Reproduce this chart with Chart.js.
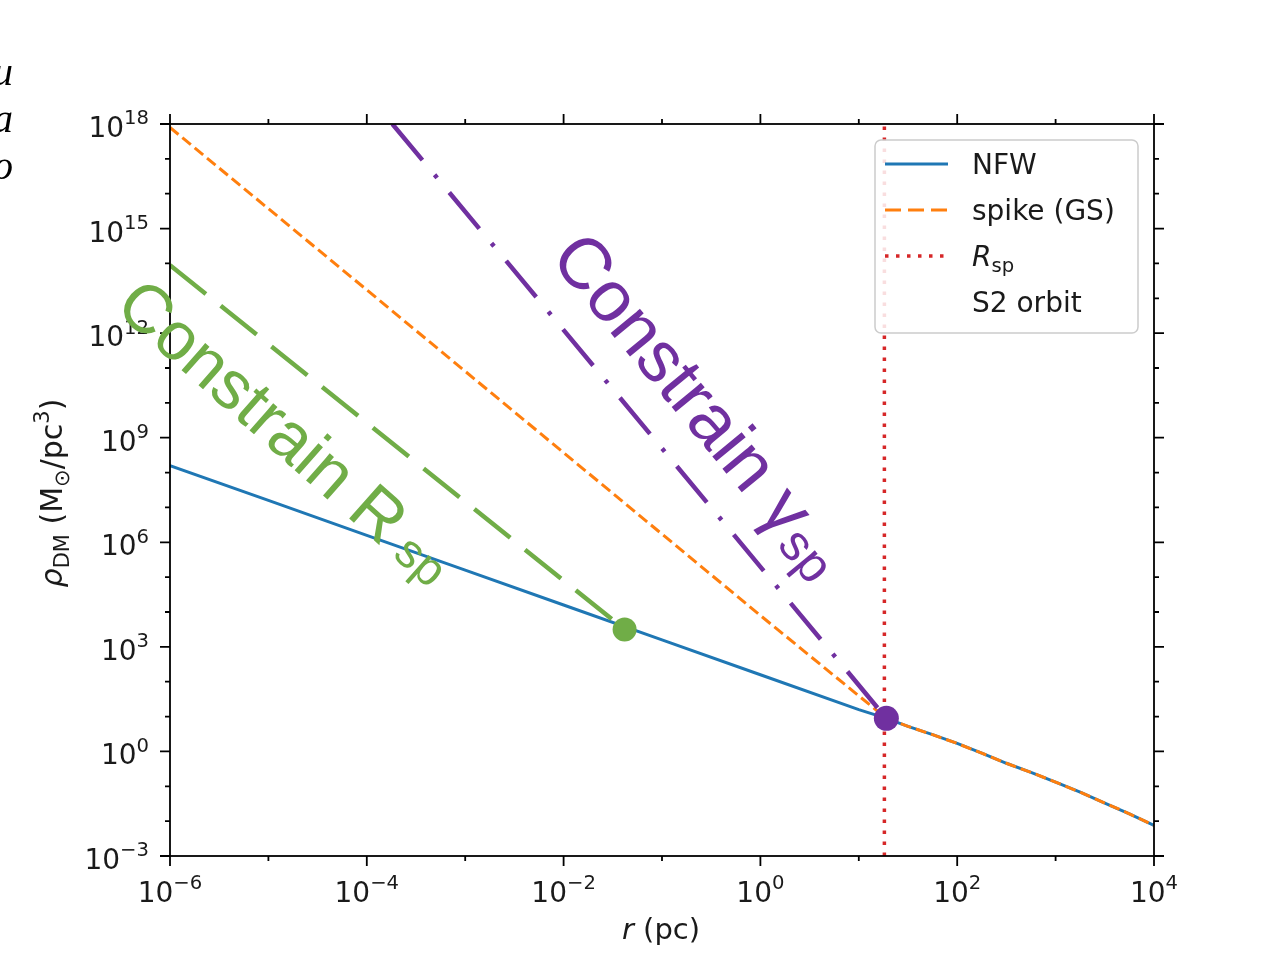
<!DOCTYPE html>
<html><head><meta charset="utf-8">
<script src="https://cdn.jsdelivr.net/npm/chart.js@4.4.1/dist/chart.umd.min.js"></script>
<style>
html,body{margin:0;padding:0;background:#fff;}
#wrap{position:relative;width:1277px;height:953px;overflow:hidden;background:#fff;}
#frag{position:absolute;left:0;top:0;width:13px;height:953px;overflow:hidden;}
#frag span{position:absolute;right:0;font:italic 40px "Liberation Serif",serif;color:#000;line-height:1;}
canvas{position:absolute;left:0;top:0;}
</style></head><body>
<div id="wrap">
<canvas id="c" width="1277" height="953"></canvas>
<div id="frag"><span style="top:52px">u</span><span style="top:99px">a</span><span style="top:146px">o</span></div>
</div>
<script>
// ---- data (log10 values) ----
const nfwLogR   = [-6, -5, -4, -3, -2, -1, 0, 1, 1.28, 1.5, 1.75, 2, 2.25, 2.5, 2.75, 3, 3.25, 3.5, 3.75, 4];
const nfwLogRho = [8.2, 7.2, 6.2, 5.2, 4.2, 3.2, 2.2, 1.2, 0.95, 0.72, 0.48, 0.23, -0.05, -0.34, -0.6, -0.88, -1.17, -1.48, -1.79, -2.12];
const spikeLogR   = [-6, -4, -2, 0, 1.28, 1.5, 1.75, 2, 2.25, 2.5, 2.75, 3, 3.25, 3.5, 3.75, 4];
const spikeLogRho = [17.9, 13.24, 8.57, 3.9, 0.95, 0.72, 0.48, 0.23, -0.05, -0.34, -0.6, -0.88, -1.17, -1.48, -1.79, -2.12];
const rspLogR = 1.26;
const rspLogRho = [-3, 18];
const constrainRspLogR   = [-6, -1.38];
const constrainRspLogRho = [13.95, 3.5];
const constrainGspLogR   = [-3.74, 1.28];
const constrainGspLogRho = [18.0, 0.95];
const greenDot = {logR: -1.38, logRho: 3.5};
const purpleDot = {logR: 1.28, logRho: 0.95};
const xTickLogs = [-6, -4, -2, 0, 2, 4];
const xTickExps = ['\u22126', '\u22124', '\u22122', '0', '2', '4'];
const yTickLogs = [-3, 0, 3, 6, 9, 12, 15, 18];
const yTickExps = ['\u22123', '0', '3', '6', '9', '12', '15', '18'];
const legendLabels = ['NFW', 'spike (GS)', 'R', 'S2 orbit'];

const C_BLUE = '#1f77b4', C_ORANGE = '#ff7f0e', C_RED = '#d62728', C_GREEN = '#70AD47', C_PURPLE = '#7030A0';
const TXT = '#1a1a1a';

const pts = (lr, lrho) => lr.map((v, i) => ({x: Math.pow(10, v), y: Math.pow(10, lrho[i])}));

const datasets = [
  {label: 'dotG', data: [{x: 10 ** greenDot.logR, y: 10 ** greenDot.logRho}], showLine: false, pointRadius: 12, pointBackgroundColor: C_GREEN, pointBorderWidth: 0, order: 0},
  {label: 'dotP', data: [{x: 10 ** purpleDot.logR, y: 10 ** purpleDot.logRho}], showLine: false, pointRadius: 12.5, pointBackgroundColor: C_PURPLE, pointBorderWidth: 0, order: 0},
  {label: 'cg', data: pts(constrainGspLogR, constrainGspLogRho), borderColor: C_PURPLE, borderWidth: 4.5, borderDash: [47, 19, 4, 19], order: 1},
  {label: 'cr', data: pts(constrainRspLogR, constrainRspLogRho), borderColor: C_GREEN, borderWidth: 4.5, borderDash: [46, 19], order: 2},
  {label: 'Rsp', data: rspLogRho.map(v => ({x: 10 ** rspLogR, y: 10 ** v})), borderColor: C_RED, borderWidth: 3.5, borderDash: [3.5, 7.5], order: 3},
  {label: 'spike (GS)', data: pts(spikeLogR, spikeLogRho), borderColor: C_ORANGE, borderWidth: 3, borderDash: [11, 5], order: 4},
  {label: 'NFW', data: pts(nfwLogR, nfwLogRho), borderColor: C_BLUE, borderWidth: 3, order: 5}
];

const framePlugin = {
  id: 'frame',
  afterDatasetsDraw(chart) {
    const {ctx, chartArea: a, scales: {x, y}} = chart;
    ctx.save();
    ctx.strokeStyle = '#000'; ctx.lineWidth = 1.8; ctx.lineCap = 'butt';
    ctx.strokeRect(a.left, a.top, a.right - a.left, a.bottom - a.top);
    ctx.beginPath();
    for (let d = -6; d <= 4; d++) {
      const px = x.getPixelForValue(10 ** d);
      const len = (d % 2 === 0) ? 10 : 5;
      ctx.moveTo(px, a.bottom); ctx.lineTo(px, a.bottom + len);
      ctx.moveTo(px, a.top); ctx.lineTo(px, a.top - len);
    }
    for (let d = -3; d <= 18; d++) {
      const py = y.getPixelForValue(10 ** d);
      const len = (d % 3 === 0) ? 10 : 5;
      ctx.moveTo(a.left, py); ctx.lineTo(a.left - len, py);
      ctx.moveTo(a.right, py); ctx.lineTo(a.right + len, py);
    }
    ctx.stroke();
    ctx.restore();
  }
};

function fontStr(p, size, family) {
  const s = p.pos === 'n' ? size : size * 0.7;
  return (p.style === 'i' ? 'italic ' : '') + s + 'px "' + family + '"';
}
function drawRich(ctx, parts, size, family, subDy, supDy) {
  let xpos = 0;
  for (const p of parts) {
    const dy = p.pos === 'sub' ? size * (subDy ?? 0.22) : (p.pos === 'sup' ? -size * (supDy ?? 0.42) : 0);
    ctx.font = fontStr(p, size, family);
    ctx.fillText(p.t, xpos, dy);
    xpos += ctx.measureText(p.t).width + (p.gap || 0);
  }
  return xpos;
}
function richWidth(ctx, parts, size, family) {
  let w = 0;
  for (const p of parts) { ctx.font = fontStr(p, size, family); w += ctx.measureText(p.t).width + (p.gap || 0); }
  return w;
}

const TICK_SIZE = 28;
const textPlugin = {
  id: 'texts',
  afterDraw(chart) {
    const {ctx, chartArea: a, scales: {x, y}} = chart;
    ctx.save();
    ctx.fillStyle = TXT; ctx.textBaseline = 'alphabetic'; ctx.textAlign = 'left';

    // tick labels (positions from the chart's scales)
    xTickLogs.forEach((v, i) => {
      const parts = [{t: '10', style: 'n', pos: 'n'}, {t: xTickExps[i], style: 'n', pos: 'sup'}];
      const w = richWidth(ctx, parts, TICK_SIZE, 'DejaVu Sans');
      ctx.save(); ctx.translate(x.getPixelForValue(10 ** v) - w / 2, a.bottom + 46);
      drawRich(ctx, parts, TICK_SIZE, 'DejaVu Sans', 0.22, 0.45); ctx.restore();
    });
    yTickLogs.forEach((v, i) => {
      const parts = [{t: '10', style: 'n', pos: 'n'}, {t: yTickExps[i], style: 'n', pos: 'sup'}];
      const w = richWidth(ctx, parts, TICK_SIZE, 'DejaVu Sans');
      ctx.save(); ctx.translate(149 - w, y.getPixelForValue(10 ** v) + 13);
      drawRich(ctx, parts, TICK_SIZE, 'DejaVu Sans', 0.22, 0.45); ctx.restore();
    });

    // y title
    const yParts = [{t: '\u03C1', style: 'i', pos: 'n'}, {t: 'DM', style: 'n', pos: 'sub'}, {t: ' (M', style: 'n', pos: 'n'},
      {t: '\u2299', style: 'n', pos: 'sub'}, {t: '/pc', style: 'n', pos: 'n'}, {t: '3', style: 'n', pos: 'sup'}, {t: ')', style: 'n', pos: 'n'}];
    const YT = 30;
    const yw = richWidth(ctx, yParts, YT, 'DejaVu Sans');
    ctx.save(); ctx.translate(62, 493 + yw / 2); ctx.rotate(-Math.PI / 2);
    drawRich(ctx, yParts, YT, 'DejaVu Sans'); ctx.restore();
    // x title
    const xParts = [{t: 'r', style: 'i', pos: 'n'}, {t: ' (pc)', style: 'n', pos: 'n'}];
    const xw = richWidth(ctx, xParts, 29, 'DejaVu Sans');
    ctx.save(); ctx.translate(661 - xw / 2, 939); drawRich(ctx, xParts, 29, 'DejaVu Sans'); ctx.restore();

    // rotated annotations anchored in data coordinates
    const rot = (lr, lrho, ang, parts, size, color, subDy) => {
      ctx.save();
      ctx.translate(x.getPixelForValue(10 ** lr), y.getPixelForValue(10 ** lrho));
      ctx.rotate(ang * Math.PI / 180);
      ctx.fillStyle = color;
      drawRich(ctx, parts, size, 'Liberation Sans', subDy, 0.4);
      ctx.restore();
    };
    rot(-6.58, 12.68, 41.5, [{t: 'Constrain R', style: 'n', pos: 'n', gap: 13}, {t: 'sp', style: 'n', pos: 'sub'}], 68, C_GREEN, 0.0);
    rot(-2.15, 14.15, 50.5, [{t: 'Constrain \u03B3', style: 'n', pos: 'n', gap: 2}, {t: 'sp', style: 'n', pos: 'sub'}], 72, C_PURPLE, 0.1);

    // legend
    const L = {x: 875, y: 140, w: 263, h: 193, r: 6};
    ctx.fillStyle = 'rgba(255,255,255,0.85)';
    ctx.strokeStyle = '#cccccc'; ctx.lineWidth = 1.5;
    ctx.beginPath(); ctx.roundRect(L.x, L.y, L.w, L.h, L.r); ctx.fill(); ctx.stroke();
    const rows = [164, 210, 256, 302];
    const styles = [
      {c: C_BLUE, dash: [], w: 3},
      {c: C_ORANGE, dash: [16, 7], w: 3},
      {c: C_RED, dash: [3.5, 7.5], w: 3.5},
      null
    ];
    rows.forEach((ry, i) => {
      const st = styles[i];
      if (st) {
        ctx.strokeStyle = st.c; ctx.lineWidth = st.w; ctx.setLineDash(st.dash);
        ctx.beginPath(); ctx.moveTo(885, ry); ctx.lineTo(948, ry); ctx.stroke();
        ctx.setLineDash([]);
      }
      ctx.fillStyle = TXT;
      ctx.save(); ctx.translate(972, ry + 10);
      if (i === 2) drawRich(ctx, [{t: legendLabels[2], style: 'i', pos: 'n'}, {t: 'sp', style: 'n', pos: 'sub'}], 28, 'DejaVu Sans');
      else drawRich(ctx, [{t: legendLabels[i], style: 'n', pos: 'n'}], 28, 'DejaVu Sans');
      ctx.restore();
    });
    ctx.restore();
  }
};

new Chart(document.getElementById('c'), {
  type: 'line',
  data: {datasets},
  options: {
    responsive: false, animation: false, events: [],
    layout: {padding: {left: 0, top: 124, right: 123, bottom: 0}},
    plugins: {legend: {display: false}, tooltip: {enabled: false}},
    elements: {point: {radius: 0, hoverRadius: 0}, line: {tension: 0, fill: false}},
    scales: {
      x: {
        type: 'logarithmic', min: 1e-6, max: 1e4, position: 'bottom',
        afterBuildTicks(s) { s.ticks = xTickLogs.map(v => ({value: Math.pow(10, v)})); },
        afterFit(s) { s.height = 97; },
        grid: {display: false}, border: {display: false},
        ticks: {display: false, autoSkip: false, maxRotation: 0}
      },
      y: {
        type: 'logarithmic', min: 1e-3, max: 1e18, position: 'left',
        afterBuildTicks(s) { s.ticks = yTickLogs.map(v => ({value: Math.pow(10, v)})); },
        afterFit(s) { s.width = 170; },
        grid: {display: false}, border: {display: false},
        ticks: {display: false, autoSkip: false}
      }
    }
  },
  plugins: [framePlugin, textPlugin]
});
</script>
</body></html>
